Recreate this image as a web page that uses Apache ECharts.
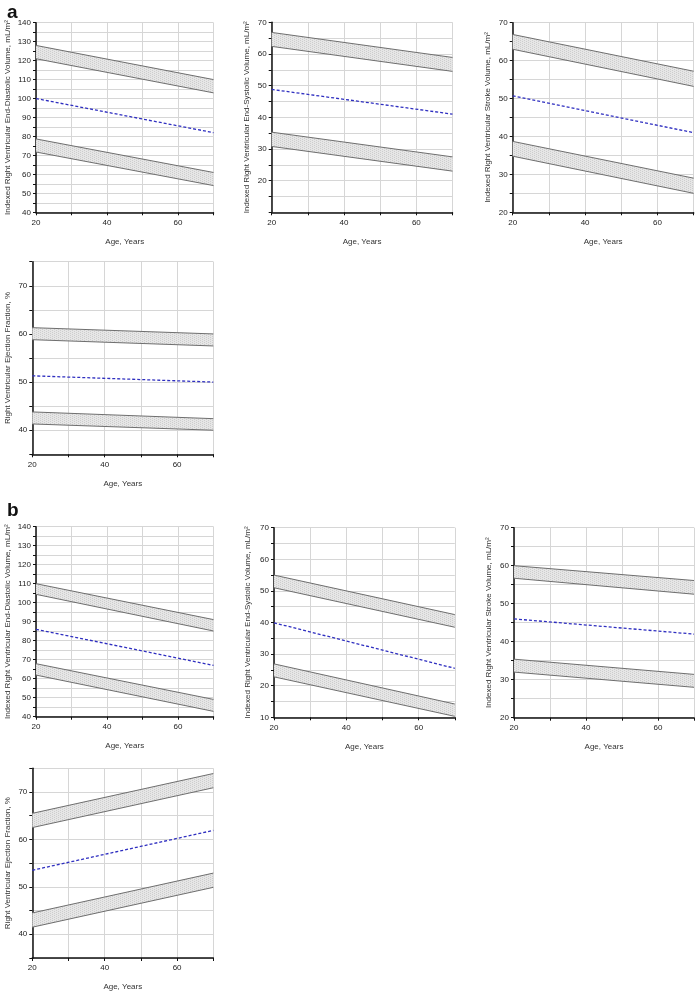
<!DOCTYPE html>
<html>
<head>
<meta charset="utf-8">
<script src="https://cdn.jsdelivr.net/npm/echarts@6/dist/echarts.min.js"></script>
<style>
html,body{margin:0;padding:0;background:#fff;}
#chart{width:697px;height:992px;}
</style>
</head>
<body>
<div id="chart"></div>
<script>
// ---- data ----
const ages = [20, 70];
const xTickLabels = [20, 40, 60];

// Panel a: EDV
const aEdvUpperHi = [128, 110];
const aEdvUpperLo = [121, 103];
const aEdvMean    = [100, 82];
const aEdvLowerHi = [78.7, 61];
const aEdvLowerLo = [71.8, 54.1];
const aEdvTicks   = [40, 50, 60, 70, 80, 90, 100, 110, 120, 130, 140];
// Panel a: ESV
const aEsvUpperHi = [66.8, 58.9];
const aEsvUpperLo = [62.4, 54.5];
const aEsvMean    = [48.8, 41];
const aEsvLowerHi = [35.3, 27.5];
const aEsvLowerLo = [30.8, 23];
const aEsvTicks   = [20, 30, 40, 50, 60, 70];
// Panel a: SV
const aSvUpperHi = [66.9, 57.2];
const aSvUpperLo = [63, 53.2];
const aSvMean    = [50.7, 41];
const aSvLowerHi = [38.7, 29];
const aSvLowerLo = [34.8, 25];
const aSvTicks   = [20, 30, 40, 50, 60, 70];
// Panel a: EF
const aEfUpperHi = [61.3, 60];
const aEfUpperLo = [58.8, 57.5];
const aEfMean    = [51.3, 50];
const aEfLowerHi = [43.8, 42.4];
const aEfLowerLo = [41.3, 40];
const aEfTicks   = [40, 50, 60, 70];

// Panel b: EDV
const bEdvUpperHi = [110, 91.1];
const bEdvUpperLo = [104.4, 85.1];
const bEdvMean    = [86, 67];
const bEdvLowerHi = [67.9, 49.1];
const bEdvLowerLo = [61.9, 42.8];
const bEdvTicks   = [40, 50, 60, 70, 80, 90, 100, 110, 120, 130, 140];
// Panel b: ESV
const bEsvUpperHi = [55, 42.5];
const bEsvUpperLo = [51, 38.5];
const bEsvMean    = [39.9, 25.5];
const bEsvLowerHi = [26.9, 14.2];
const bEsvLowerLo = [22.8, 10.3];
const bEsvTicks   = [10, 20, 30, 40, 50, 60, 70];
// Panel b: SV
const bSvUpperHi = [60, 56.1];
const bSvUpperLo = [56.7, 52.5];
const bSvMean    = [46, 42];
const bSvLowerHi = [35.4, 31.4];
const bSvLowerLo = [32, 28];
const bSvTicks   = [20, 30, 40, 50, 60, 70];
// Panel b: EF
const bEfUpperHi = [65.5, 73.9];
const bEfUpperLo = [62.5, 70.9];
const bEfMean    = [53.5, 61.9];
const bEfLowerHi = [44.5, 52.9];
const bEfLowerLo = [41.5, 49.9];
const bEfTicks   = [40, 50, 60, 70];

const titleEdv = 'Indexed Right Ventricular End-Diastolic Volume, mL/m\u00B2';
const titleEsv = 'Indexed Right Ventricular End-Systolic Volume, mL/m\u00B2';
const titleSv  = 'Indexed Right Ventricular Stroke Volume, mL/m\u00B2';
const titleEf  = 'Right Ventricular Ejection Fraction, %';
const xTitle   = 'Age, Years';

// ---- layout / panels ----
const panels = [
  {box:[36, 22.7, 177.5, 189.6], yMin:40, yMax:140, ticks:aEdvTicks, title:titleEdv, gap:24,
   uh:aEdvUpperHi, ul:aEdvUpperLo, m:aEdvMean, lh:aEdvLowerHi, ll:aEdvLowerLo},
  {box:[271.7, 22.3, 180.8, 190], yMin:10, yMax:70, ticks:aEsvTicks, title:titleEsv, gap:21,
   uh:aEsvUpperHi, ul:aEsvUpperLo, m:aEsvMean, lh:aEsvLowerHi, ll:aEsvLowerLo},
  {box:[512.7, 22.7, 181, 189.6], yMin:20, yMax:70, ticks:aSvTicks, title:titleSv, gap:21,
   uh:aSvUpperHi, ul:aSvUpperLo, m:aSvMean, lh:aSvLowerHi, ll:aSvLowerLo},
  {box:[32.3, 261.7, 181, 192.6], yMin:35, yMax:75, ticks:aEfTicks, title:titleEf, gap:21,
   uh:aEfUpperHi, ul:aEfUpperLo, m:aEfMean, lh:aEfLowerHi, ll:aEfLowerLo},
  {box:[36, 526.7, 177.5, 190], yMin:40, yMax:140, ticks:bEdvTicks, title:titleEdv, gap:24,
   uh:bEdvUpperHi, ul:bEdvUpperLo, m:bEdvMean, lh:bEdvLowerHi, ll:bEdvLowerLo},
  {box:[274, 527.7, 180.8, 189.6], yMin:10, yMax:70, ticks:bEsvTicks, title:titleEsv, gap:22,
   uh:bEsvUpperHi, ul:bEsvUpperLo, m:bEsvMean, lh:bEsvLowerHi, ll:bEsvLowerLo},
  {box:[514, 527.7, 181, 190], yMin:20, yMax:70, ticks:bSvTicks, title:titleSv, gap:21,
   uh:bSvUpperHi, ul:bSvUpperLo, m:bSvMean, lh:bSvLowerHi, ll:bSvLowerLo},
  {box:[32.3, 768.3, 181, 190.7], yMin:35, yMax:75, ticks:bEfTicks, title:titleEf, gap:21,
   uh:bEfUpperHi, ul:bEfUpperLo, m:bEfMean, lh:bEfLowerHi, ll:bEfLowerLo}
];

// fine dotted fill pattern
const pat = document.createElement('canvas');
pat.width = 4; pat.height = 4;
const pc = pat.getContext('2d');
pc.fillStyle = '#e6e6e6'; pc.fillRect(0,0,4,4);
pc.fillStyle = '#cdcdcd'; pc.fillRect(0,0,1,1); pc.fillRect(2,1,1,1); pc.fillRect(0,2,1,1); pc.fillRect(2,3,1,1);

const FONT = 'Liberation Sans, Arial, sans-serif';
const grid = [], xAxis = [], yAxis = [], series = [];
const pair = (xs, ys) => xs.map((x, i) => [x, ys[i]]);
const bandLine = {color:'#6e6e6e', width:1};

function bandSeries(i, hi, lo) {
  const rows = ages.map((x, k) => [x, lo[k], hi[k]]);
  return {
    type:'custom', xAxisIndex:i, yAxisIndex:i, silent:true, animation:false, z:2,
    data: rows.slice(0, rows.length - 1).map((r, k) => [r[0], r[1], r[2], rows[k+1][0], rows[k+1][1], rows[k+1][2]]),
    encode:{x:[0,3], y:[1,2,4,5]},
    renderItem:(params, api) => {
      const a1 = api.coord([api.value(0), api.value(2)]);
      const b1 = api.coord([api.value(3), api.value(5)]);
      const b0 = api.coord([api.value(3), api.value(4)]);
      const a0 = api.coord([api.value(0), api.value(1)]);
      return {type:'polygon', shape:{points:[a1, b1, b0, a0]},
        style:{fill:{image:pat, repeat:'repeat'}, stroke:null}};
    }
  };
}

panels.forEach((p, i) => {
  grid.push({left:p.box[0], top:p.box[1], width:p.box[2], height:p.box[3], containLabel:false});
  xAxis.push({
    type:'value', gridIndex:i, min:20, max:70, interval:10,
    name:xTitle, nameLocation:'middle', nameGap:25,
    nameTextStyle:{fontFamily:FONT, fontSize:8, color:'#333'},
    axisLine:{show:true, onZero:false, lineStyle:{color:'#111', width:1.5}},
    axisTick:{show:true, length:3, lineStyle:{color:'#111'}},
    axisLabel:{fontFamily:FONT, fontSize:8, color:'#222', margin:6,
      formatter:v => xTickLabels.includes(v) ? String(v) : ''},
    splitLine:{show:true, lineStyle:{color:'#d6d6d6', width:1}}
  });
  yAxis.push({
    type:'value', gridIndex:i, min:p.yMin, max:p.yMax, interval:5,
    name:p.title, nameLocation:'middle', nameGap:p.gap, nameRotate:90,
    nameTextStyle:{fontFamily:FONT, fontSize:8, color:'#333'},
    axisLine:{show:true, onZero:false, lineStyle:{color:'#111', width:1.5}},
    axisTick:{show:true, length:3, lineStyle:{color:'#111'}},
    axisLabel:{fontFamily:FONT, fontSize:8, color:'#222', margin:5,
      formatter:v => p.ticks.includes(v) ? String(v) : ''},
    splitLine:{show:true, lineStyle:{color:'#d6d6d6', width:1}}
  });
  const common = {type:'line', xAxisIndex:i, yAxisIndex:i, symbol:'none', silent:true, animation:false, z:3};
  series.push(bandSeries(i, p.uh, p.ul));
  series.push(bandSeries(i, p.lh, p.ll));
  series.push(Object.assign({}, common, {data:pair(ages, p.uh), lineStyle:bandLine}));
  series.push(Object.assign({}, common, {data:pair(ages, p.ul), lineStyle:bandLine}));
  series.push(Object.assign({}, common, {data:pair(ages, p.lh), lineStyle:bandLine}));
  series.push(Object.assign({}, common, {data:pair(ages, p.ll), lineStyle:bandLine}));
  series.push(Object.assign({}, common, {data:pair(ages, p.m), z:4,
    lineStyle:{color:'#2f2fc0', width:1.3, type:[3,2]}}));
});

const chart = echarts.init(document.getElementById('chart'), null, {renderer:'canvas'});
chart.setOption({
  backgroundColor:'#fff',
  animation:false,
  title:[
    {text:'a', left:2, top:-2, textStyle:{fontFamily:FONT, fontSize:19, fontWeight:'bold', color:'#111'}},
    {text:'b', left:2, top:496, textStyle:{fontFamily:FONT, fontSize:19, fontWeight:'bold', color:'#111'}}
  ],
  grid, xAxis, yAxis, series
});
</script>
</body>
</html>
